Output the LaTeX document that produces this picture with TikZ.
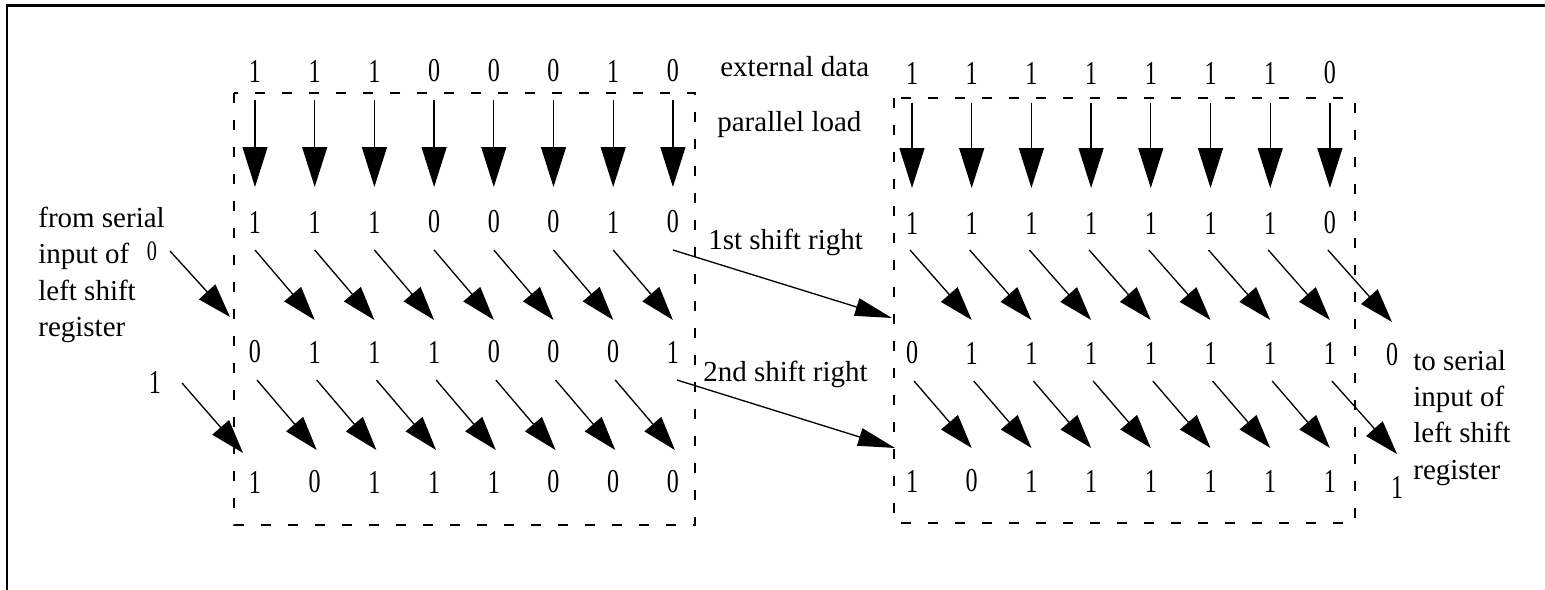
\documentclass[tikz,border=0pt]{standalone}
\usepackage{fontspec}
\setmainfont{Liberation Serif}
\newfontfamily\bitfont[FakeStretch=0.72]{Liberation Serif}
\usetikzlibrary{arrows.meta}

\begin{document}
\begin{tikzpicture}[x=0.02cm,y=-0.02cm,
		bit/.style={font=\bitfont\fontsize{19}{19}\selectfont,inner sep=0pt},
		smallbit/.style={font=\bitfont\fontsize{16}{16}\selectfont,inner sep=0pt},
		lbl/.style={font=\fontsize{16.5}{20.6}\selectfont,align=left,inner sep=0pt},
		register/.style={line width=1.1pt,dash pattern=on 0.2cm off 0.34cm},
		load/.style={line width=0.75pt,-{Triangle[width=0.5cm,length=0.8cm]}},
		slide/.style={line width=0.75pt,-{Triangle[width=0.44cm,length=0.68cm]}},
		carry/.style={line width=0.75pt,-{Triangle[width=0.36cm,length=0.74cm]}}]
	\useasboundingbox (0,0) rectangle (1545,590);
	\draw[line width=1.7pt] (1545,6) -- (7,6) -- (7,590);
	\draw[register] (234,93) rectangle (695,525);
	\draw[register] (894,98) rectangle (1355,523);
	\foreach \r/\y/\bits in {0/71/{1,1,1,0,0,0,1,0},1/222/{1,1,1,0,0,0,1,0},2/352/{0,1,1,1,0,0,0,1},3/482/{1,0,1,1,1,0,0,0}}
		\foreach \b [count=\i] in \bits
			\node[bit] (a\r-\i) at ({255+59.7*(\i-1)},\y) {\b};
	\foreach \r/\y/\bits in {0/73/{1,1,1,1,1,1,1,0},1/223/{1,1,1,1,1,1,1,0},2/353/{0,1,1,1,1,1,1,1},3/481/{1,0,1,1,1,1,1,1}}
		\foreach \b [count=\i] in \bits
			\node[bit] (b\r-\i) at ({912+59.7*(\i-1)},\y) {\b};
	\node[bit] (b2-9) at (1392,355) {0};
	\node[bit] (b3-9) at (1397,487) {1};
	\node[smallbit] (in0) at (152,251) {0};
	\node[bit] (in1) at (155,382) {1};
	\node[lbl,anchor=north west] (fromlbl) at (38,207) {from serial\\input of\\left shift\\register};
	\node[lbl,anchor=north west] (tolbl) at (1413,350) {to serial\\input of\\left shift\\register};
	\node[lbl,anchor=base west] (extdata) at (720,77) {external data};
	\node[lbl,anchor=base west] (pload) at (717,132) {parallel load};
	\node[lbl,anchor=base west] (shift1) at (708,250) {1st shift right};
	\node[lbl,anchor=base west] (shift2) at (703,382) {2nd shift right};
	\foreach \i in {1,...,8} {
		\draw[load] ([shift={(0,29)}]a0-\i.center) -- ([shift={(0,-35)}]a1-\i.center);
		\draw[load] ([shift={(0,30)}]b0-\i.center) -- ([shift={(0,-35)}]b1-\i.center);
	}
	\foreach \i [count=\j from 2] in {1,...,7} {
		\draw[slide] ([shift={(0,28)}]a1-\i.center) -- ([shift={(0,-32)}]a2-\j.center);
		\draw[slide] ([shift={(2,28)}]a2-\i.center) -- ([shift={(2,-32)}]a3-\j.center);
	}
	\foreach \i [count=\j from 2] in {1,...,8} {
		\draw[slide] ([shift={(-2,27)}]b1-\i.center) -- ([shift={(0,-33)}]b2-\j.center);
		\draw[slide] ([shift={(2,28)}]b2-\i.center) -- ([shift={(0,-33)}]b3-\j.center);
	}
	\draw[slide] ([shift={(18,0)}]in0.center) -- ([shift={(-25,-35)}]a2-1.center);
	\draw[slide] ([shift={(27,1)}]in1.center) -- ([shift={(-12,-29)}]a3-1.center);
	\draw[carry] ([shift={(0,28)}]a1-8.center) -- ([shift={(-20,-35)}]b2-1.center);
	\draw[carry] ([shift={(4,28)}]a2-8.center) -- ([shift={(-17,-33)}]b3-1.center);
\end{tikzpicture}
\end{document}
